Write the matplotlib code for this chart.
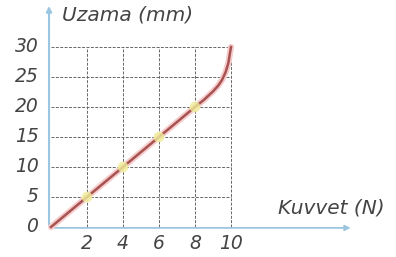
import matplotlib
matplotlib.use("Agg")
import matplotlib.pyplot as plt

# Data
force = [0, 2, 4, 6, 8, 8.5, 9, 9.3, 9.5, 9.7, 9.85, 10]
elong = [0, 5, 10, 15, 20, 21.2, 22.6, 23.6, 24.5, 25.8, 27.3, 30]
mark_x = [2, 4, 6, 8]
mark_y = [5, 10, 15, 20]
xticks = [2, 4, 6, 8, 10]
yticks = [0, 5, 10, 15, 20, 25, 30]
xlabel = "Kuvvet (N)"
ylabel = "Uzama (mm)"

fig = plt.figure(figsize=(3.96, 2.57), dpi=100)
ax = fig.add_axes([0, 0, 1, 1])
ax.set_xlim(-51/18, (396-51)/18)
ax.set_ylim(-5.0, 227/6)
ax.axis('off')

grid_kw = dict(color='#666666', lw=0.7, ls=(0, (3, 1.5)), zorder=1)
for xv in xticks:
    ax.plot([xv, xv], [0, 30], **grid_kw)
for yv in yticks[1:]:
    ax.plot([0, 10], [yv, yv], **grid_kw)

axis_col = '#9cc6e0'
ax.annotate('', xy=(16.8, -0.15), xytext=(-0.11, -0.15),
            arrowprops=dict(arrowstyle='-|>', color=axis_col, lw=1.3,
                            mutation_scale=8), zorder=2)
ax.annotate('', xy=(-0.11, 37.3), xytext=(-0.11, -0.15),
            arrowprops=dict(arrowstyle='-|>', color=axis_col, lw=1.5,
                            mutation_scale=8), zorder=2)

ax.plot(force, elong, color='#f5cccc', lw=4.5, solid_capstyle='round',
        solid_joinstyle='round', zorder=3)
ax.plot(force, elong, color='#a85252', lw=1.8, solid_joinstyle='round', zorder=4)
ax.scatter(mark_x, mark_y, s=60, color='#eeee99', alpha=0.8, edgecolors='none', zorder=5)

tcol = '#444444'
for yv in yticks:
    ax.text(-0.7, yv, str(yv), ha='right', va='center', fontsize=13.5,
            style='italic', color=tcol)
for xv in xticks:
    ax.text(xv, -2.8, str(xv), ha='center', va='center', fontsize=13.5,
            style='italic', color=tcol)

ax.text(0.6, (227-15)/6, ylabel, ha='left', va='center', fontsize=14.5,
        style='italic', color=tcol)
ax.text((278-51)/18, (227-208)/6, xlabel, ha='left', va='center', fontsize=14.5,
        style='italic', color=tcol)

fig.savefig('out.png', dpi=100)
